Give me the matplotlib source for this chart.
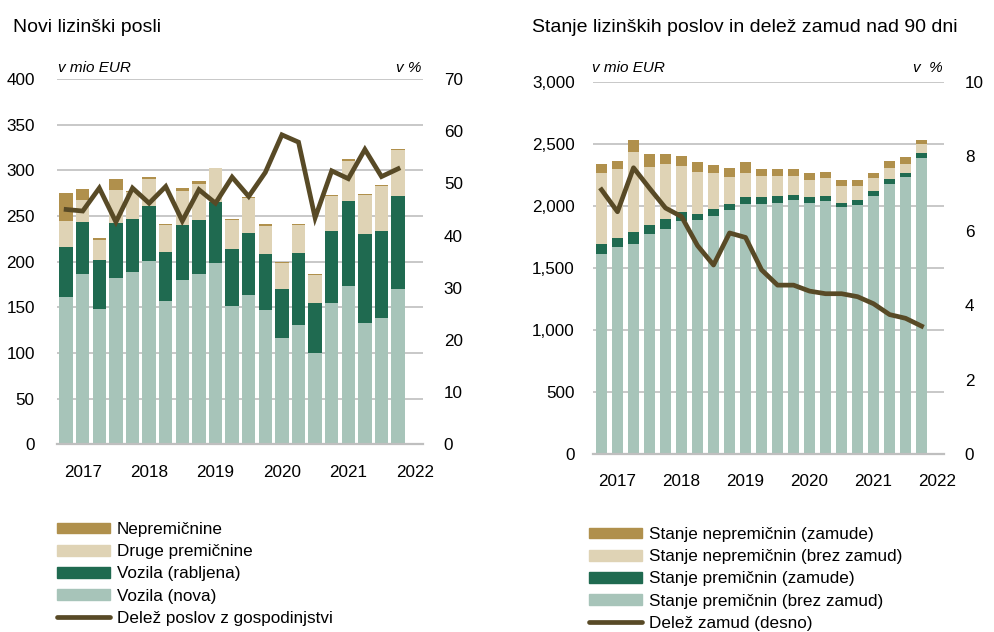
import matplotlib
matplotlib.use("Agg")
import matplotlib.pyplot as plt
from matplotlib.patches import Patch
from matplotlib.lines import Line2D
import numpy as np

plt.rcParams['font.family'] = ['Liberation Sans', 'DejaVu Sans']

# ---------------- data ----------------
year_labels = ['2017', '2018', '2019', '2020', '2021', '2022']
year_tick_idx = [1, 5, 9, 13, 17, 21]

# Left chart: new leasing deals (mio EUR), quarterly
vozila_nova = [161, 186, 148, 182, 189, 201, 157, 180, 186, 199, 151, 164, 147, 116, 131, 100, 155, 173, 133, 138, 170]
vozila_rabljena = [55, 57, 54, 60, 58, 60, 54, 60, 60, 66, 63, 67, 61, 54, 78, 55, 79, 93, 97, 96, 102]
druge_premicnine = [28.5, 25, 22, 36.5, 29, 30, 29, 37, 38.6, 37, 32, 39, 31.4, 29, 31.5, 30, 37.5, 44.6, 43, 49, 50]
nepremicnine = [30.5, 11.6, 1.5, 12, 1, 2.2, 0.8, 4, 3.4, 1, 1, 1, 1.5, 1, 1, 1, 1.1, 2, 1, 1, 1.5]
delez_gospodinjstva = [45.0, 44.7, 49.1, 42.6, 49.1, 46.2, 49.4, 42.8, 48.8, 46.2, 51.2, 47.5, 52.1, 59.3, 57.9, 43.4, 52.4, 50.9, 56.5, 51.3, 52.8]

# Right chart: stock of leasing deals (mio EUR) and share of arrears >90 days (%)
prem_brez = [1610, 1672, 1696, 1774, 1811, 1878, 1886, 1921, 1964, 2018, 2018, 2026, 2048, 2026, 2037, 1994, 2005, 2080, 2176, 2230, 2383]
prem_zamude = [86, 72, 94, 70, 86, 73, 51, 51, 51, 51, 51, 54, 42, 43, 43, 32, 43, 42, 43, 32, 40]
neprem_brez = [566, 551, 647, 472, 443, 368, 339, 293, 218, 196, 174, 163, 153, 142, 142, 132, 110, 100, 89, 78, 75]
neprem_zamude = [78, 67, 94, 99, 75, 85, 75, 64, 75, 86, 54, 54, 54, 54, 54, 53, 53, 43, 54, 54, 33]
delez_zamud = [7.10, 6.51, 7.69, 7.14, 6.61, 6.38, 5.60, 5.08, 5.94, 5.82, 4.95, 4.54, 4.54, 4.38, 4.31, 4.31, 4.23, 4.04, 3.75, 3.65, 3.44]

# ---------------- style ----------------
C_GOLD = '#B0904C'
C_BEIGE = '#DFD3B5'
C_GREEN = '#1F6A50'
C_TEAL = '#A7C4B9'
C_LINE = '#584A26'
C_GRID = '#BFBFBF'
FS_TICK = 12.3
FS_TITLE = 14
FS_UNIT = 11

W, H = 995, 632
fig = plt.figure(figsize=(W / 100, H / 100), dpi=100)


def fx(px):
    return px / W


def fy(py):
    return 1 - py / H


def style_axes(ax, ax2):
    for s in ['top', 'left', 'right']:
        ax.spines[s].set_visible(False)
        ax2.spines[s].set_visible(False)
    ax2.spines['bottom'].set_visible(False)
    ax.spines['bottom'].set_color(C_GRID)
    ax.spines['bottom'].set_linewidth(1.6)
    ax.tick_params(axis='both', length=0, labelsize=FS_TICK, colors='#000000')
    ax2.tick_params(axis='both', length=0, labelsize=FS_TICK, colors='#000000')
    ax.yaxis.grid(True, color=C_GRID, linewidth=1.2)
    ax.set_axisbelow(True)
    ax.set_xticks(year_tick_idx)
    ax.set_xticklabels(year_labels)


# ---------------- left chart ----------------
n = len(vozila_nova)
x = np.arange(n)
axL = fig.add_axes([fx(57), fy(444.3), fx(423 - 57), (444.3 - 79) / H])
axL2 = axL.twinx()
bw = 0.8
b0 = np.zeros(n)
for vals, col in [(vozila_nova, C_TEAL), (vozila_rabljena, C_GREEN),
                  (druge_premicnine, C_BEIGE), (nepremicnine, C_GOLD)]:
    axL.bar(x, vals, bw, bottom=b0, color=col, linewidth=0)
    b0 = b0 + np.array(vals)
axL2.plot(x, delez_gospodinjstva, color=C_LINE, linewidth=3.4, solid_joinstyle='miter')
axL.set_xlim(-0.55, 21.5)
axL.set_ylim(0, 400)
axL.set_yticks(np.arange(0, 401, 50))
axL2.set_ylim(0, 70)
axL2.set_yticks(np.arange(0, 71, 10))
style_axes(axL, axL2)
axL.tick_params(axis='y', pad=16)
axL2.tick_params(axis='y', pad=15)
axL.tick_params(axis='x', pad=15)

# ---------------- right chart ----------------
axR = fig.add_axes([fx(592.7), fy(454.3), fx(944 - 592.7), (454.3 - 81.7) / H])
axR2 = axR.twinx()
bw2 = 0.7
b0 = np.zeros(n)
for vals, col in [(prem_brez, C_TEAL), (prem_zamude, C_GREEN),
                  (neprem_brez, C_BEIGE), (neprem_zamude, C_GOLD)]:
    axR.bar(x, vals, bw2, bottom=b0, color=col, linewidth=0)
    b0 = b0 + np.array(vals)
axR2.plot(x, delez_zamud, color=C_LINE, linewidth=3.4, solid_joinstyle='round')
axR.set_xlim(-0.55, 21.4)
axR.set_ylim(0, 3000)
axR.set_yticks(np.arange(0, 3001, 500))
axR.set_yticklabels([f'{v:,}' for v in range(0, 3001, 500)])
axR2.set_ylim(0, 10)
axR2.set_yticks(np.arange(0, 11, 2))
style_axes(axR, axR2)
axR.tick_params(axis='y', pad=13)
axR2.tick_params(axis='y', pad=15)
axR.tick_params(axis='x', pad=14)

# ---------------- titles & unit labels ----------------
fig.text(fx(13), fy(32), 'Novi lizinški posli', fontsize=FS_TITLE, va='baseline', ha='left')
fig.text(fx(532), fy(32), 'Stanje lizinških poslov in delež zamud nad 90 dni', fontsize=FS_TITLE,
         va='baseline', ha='left')
fig.text(fx(58), fy(72), 'v mio EUR', fontsize=FS_UNIT, style='italic', va='baseline', ha='left')
fig.text(fx(421), fy(72), 'v %', fontsize=FS_UNIT, style='italic', va='baseline', ha='right')
fig.text(fx(592), fy(72), 'v mio EUR', fontsize=FS_UNIT, style='italic', va='baseline', ha='left')
fig.text(fx(943), fy(72), 'v  %', fontsize=FS_UNIT, style='italic', va='baseline', ha='right')

# ---------------- legends ----------------
leg_kw = dict(frameon=False, fontsize=FS_TICK, handlelength=3.1, handleheight=0.6,
              handletextpad=0.4, labelspacing=0.42, borderpad=0, borderaxespad=0,
              loc='upper left')
hL = [Patch(color=C_GOLD), Patch(color=C_BEIGE), Patch(color=C_GREEN), Patch(color=C_TEAL),
      Line2D([], [], color=C_LINE, lw=3.4, solid_capstyle='round')]
fig.legend(hL, ['Nepremičnine', 'Druge premičnine', 'Vozila (rabljena)', 'Vozila (nova)',
                'Delež poslov z gospodinjstvi'],
           bbox_to_anchor=(fx(57), fy(522)), **leg_kw)
hR = [Patch(color=C_GOLD), Patch(color=C_BEIGE), Patch(color=C_GREEN), Patch(color=C_TEAL),
      Line2D([], [], color=C_LINE, lw=3.4, solid_capstyle='round')]
fig.legend(hR, ['Stanje nepremičnin (zamude)', 'Stanje nepremičnin (brez zamud)',
                'Stanje premičnin (zamude)', 'Stanje premičnin (brez zamud)',
                'Delež zamud (desno)'],
           bbox_to_anchor=(fx(589), fy(527)), **leg_kw)

fig.savefig('out.png', dpi=100)
